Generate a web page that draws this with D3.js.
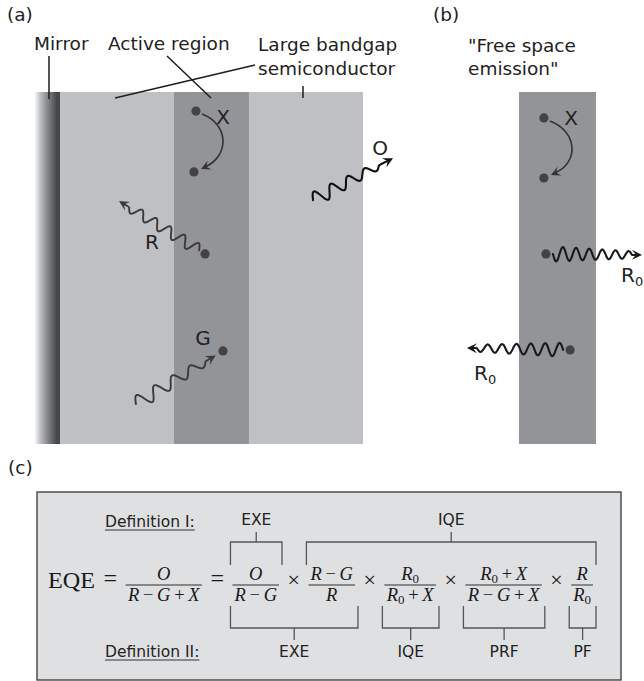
<!DOCTYPE html>
<html><head><meta charset="utf-8">
<script src="https://cdn.jsdelivr.net/npm/d3@7"></script>
<style>html,body{margin:0;padding:0;background:#fff}</style>
</head><body>
<svg id="fig" width="644" height="681"></svg>
<script>
// ---------- data ----------
const layerKinds = ["mirror", "cladding", "active", "cladding"];
const layerEdges = [0, 1, 5.5, 8.5, 13];
const calloutLabels = ["Mirror", "Active region", "Large bandgap", "semiconductor"];
const panelLabels = ["(a)", "(b)", "(c)"];
const freeSpaceLines = ["\"Free space", "emission\""];
// panel (a) processes, in layer units [x, y]
const exchangeA = [[6.38, 0.76], [6.30, 3.18]];
const photonR = [[6.74, 6.44], [3.33, 4.34]];
const photonG = [[4.0, 12.41], [7.45, 10.30]];
const photonO = [[11.02, 4.30], [14.19, 2.63]];
// panel (b) processes
const exchangeB = [[6.47, 1.03], [6.47, 3.42]];
const photonB1 = [[6.55, 6.44], [10.29, 6.48]];
const photonB2 = [[7.49, 10.26], [3.47, 10.18]];
// panel (c) equation
const eqLeft = "EQE";
const joiners = ["=", "=", "×", "×", "×", "×"];
const fracNum = ["O", "O", "R−G", "R_0", "R_0+X", "R"];
const fracDen = ["R−G+X", "R−G", "R", "R_0+X", "R−G+X", "R_0"];
const topBraceLabels = ["EXE", "IQE"];
const topBraceSpans = [[1, 1], [2, 5]];
const bottomBraceLabels = ["EXE", "IQE", "PRF", "PF"];
const bottomBraceSpans = [[1, 2], [3, 3], [4, 4], [5, 5]];
const definitionLabels = ["Definition I:", "Definition II:"];

// ---------- setup ----------
const SANS = "DejaVu Sans, Verdana, sans-serif";
const SERIF = "Liberation Serif, DejaVu Serif, serif";
const INK = "#222";
const svg = d3.select("#fig");

const xA = d3.scaleLinear().domain([0, 13]).range([35, 363]);
const yU = d3.scaleLinear().domain([0, 14]).range([92, 444]);
const xB = d3.scaleLinear().domain([5.5, 8.5]).range([519, 596]);

const defs = svg.append("defs");
const grad = defs.append("linearGradient").attr("id", "mirrorGrad")
  .attr("x1", 0).attr("x2", 1).attr("y1", 0).attr("y2", 0);
[[0, "#f6f6f7"], [0.18, "#c6c7ca"], [0.45, "#8f9093"], [0.72, "#5f6062"], [0.85, "#48494b"], [1, "#444547"]]
  .forEach(([o, c]) => grad.append("stop").attr("offset", o).attr("stop-color", c));

const fills = { mirror: "url(#mirrorGrad)", cladding: "#bfc0c3", active: "#939497" };

// ---------- panel (a) layers ----------
svg.append("g").selectAll("rect").data(layerKinds).join("rect")
  .attr("x", (d, i) => xA(layerEdges[i]))
  .attr("width", (d, i) => xA(layerEdges[i + 1]) - xA(layerEdges[i]))
  .attr("y", yU(0)).attr("height", yU(14) - yU(0))
  .attr("fill", d => fills[d]);

// panel (b) active layer
svg.append("rect").attr("x", xB(5.5)).attr("width", xB(8.5) - xB(5.5))
  .attr("y", yU(0)).attr("height", yU(14) - yU(0)).attr("fill", fills.active);

// ---------- text helper ----------
function label(x, y, txt, size, anchor) {
  return svg.append("text").attr("x", x).attr("y", y).attr("font-family", SANS)
    .attr("font-size", size).attr("fill", INK).attr("text-anchor", anchor || "start").text(txt);
}

label(7, 21, panelLabels[0], 18.5);
label(433, 21, panelLabels[1], 18.5);
label(8, 474, panelLabels[2], 18.5);

label(34, 50, calloutLabels[0], 18.5);
label(108, 50, calloutLabels[1], 18.5);
label(258, 51, calloutLabels[2], 18.5);
label(258, 75, calloutLabels[3], 18.5);
label(468, 52, freeSpaceLines[0], 18.5);
label(468, 75, freeSpaceLines[1], 18.5);

// callout leader lines
const leaders = [[[49, 56], [49, 99]], [[167, 56], [211, 98]], [[115, 98], [255, 65]], [[303, 86], [303, 98]]];
svg.append("g").selectAll("line").data(leaders).join("line")
  .attr("x1", d => d[0][0]).attr("y1", d => d[0][1]).attr("x2", d => d[1][0]).attr("y2", d => d[1][1])
  .attr("stroke", "#1e1e1e").attr("stroke-width", 1.5);

// ---------- arrows ----------
function arrowHead(g, tip, ux, uy, color, h) {
  const nx = -uy, ny = ux, w = h * 0.5;
  const b1 = [tip[0] - ux * h + nx * w, tip[1] - uy * h + ny * w];
  const b2 = [tip[0] - ux * h - nx * w, tip[1] - uy * h - ny * w];
  const nt = [tip[0] - ux * h * 0.6, tip[1] - uy * h * 0.6];
  g.append("path").attr("d", `M${tip}L${b1}L${nt}L${b2}Z`).attr("fill", color);
}

function photon(p0, p1, o) {
  const g = svg.append("g");
  const dx = p1[0] - p0[0], dy = p1[1] - p0[1];
  const L0 = Math.hypot(dx, dy), ux = dx / L0, uy = dy / L0, nx = -uy, ny = ux;
  const L = L0 - (o.endGap || 0);
  const s0 = o.startGap || 0, s1 = L - o.tail;
  const pts = [];
  const N = 240;
  for (let i = 0; i <= N; i++) {
    const t = i / N, s = s0 + t * (s1 - s0);
    const a = o.a0 + (o.a1 - o.a0) * t;
    const off = a * Math.sin(2 * Math.PI * o.cycles * t + (o.phase || 0));
    pts.push([p0[0] + ux * s + nx * off, p0[1] + uy * s + ny * off]);
  }
  pts.push([p0[0] + ux * (L - 5), p0[1] + uy * (L - 5)]);
  g.append("path").attr("d", d3.line().curve(d3.curveCatmullRom)(pts))
    .attr("fill", "none").attr("stroke", o.color).attr("stroke-width", o.width || 1.9)
    .attr("stroke-linecap", "round");
  arrowHead(g, [p0[0] + ux * L, p0[1] + uy * L], ux, uy, o.color, 10);
}

function exchange(d1, d2, color) {
  const p0 = [d1[0] + 6, d1[1] + 3], p3 = [d2[0] + 9, d2[1] - 4];
  const c1 = [p0[0] + 27, p0[1] + 10], c2 = [p3[0] + 27, p3[1] - 12];
  svg.append("path").attr("d", `M${p0}C${c1} ${c2} ${[p3[0] + 2, p3[1] - 1]}`)
    .attr("fill", "none").attr("stroke", color).attr("stroke-width", 1.6);
  const ddx = p3[0] - c2[0], ddy = p3[1] - c2[1], l = Math.hypot(ddx, ddy);
  arrowHead(svg, [p3[0] - 2, p3[1] + 1], ddx / l, ddy / l, color, 9.5);
}

function dot(p) {
  svg.append("circle").attr("cx", p[0]).attr("cy", p[1]).attr("r", 4.6).attr("fill", "#434345");
}

const pa = d => [xA(d[0]), yU(d[1])];
const pb = d => [xB(d[0]), yU(d[1])];

// panel (a)
exchangeA.map(pa).forEach(dot);
exchange(pa(exchangeA[0]), pa(exchangeA[1]), "#333");
dot(pa(photonR[0]));
photon(pa(photonR[0]), pa(photonR[1]), { cycles: 5, a0: 6, a1: 4.5, tail: 12, startGap: 7, color: "#3a3a3a" });
dot(pa(photonG[1]));
photon(pa(photonG[0]), pa(photonG[1]), { cycles: 4, a0: 7.5, a1: 4, tail: 12, endGap: 8.5, color: "#3a3a3a", phase: Math.PI });
photon(pa(photonO[0]), pa(photonO[1]), { cycles: 4, a0: 7.5, a1: 3.5, tail: 16, color: "#111", width: 2.1, phase: Math.PI });

label(223, 124, "X", 20, "middle");
label(152, 249, "R", 20, "middle");
label(203, 345, "G", 20, "middle");
label(380, 155, "O", 20, "middle");

// panel (b)
exchangeB.map(pb).forEach(dot);
exchange(pb(exchangeB[0]), pb(exchangeB[1]), "#333");
dot(pb(photonB1[0]));
photon(pb(photonB1[0]), pb(photonB1[1]), { cycles: 6, a0: 7.5, a1: 3.5, tail: 10, startGap: 7, color: "#1a1a1a", width: 2.1 });
dot(pb(photonB2[0]));
photon(pb(photonB2[0]), pb(photonB2[1]), { cycles: 6, a0: 7, a1: 3.5, tail: 10, startGap: 7, color: "#1a1a1a", width: 2.1 });

label(571, 125, "X", 20, "middle");
function subLabel(x, y, base, sub) {
  const t = label(x, y, base, 20);
  t.append("tspan").attr("font-size", 13).attr("dy", 4).text(sub);
}
subLabel(621, 282, "R", "0");
subLabel(474, 380, "R", "0");

// ---------- panel (c) ----------
svg.append("rect").attr("x", 37).attr("y", 492).attr("width", 584).attr("height", 188)
  .attr("fill", "#dfe0e2").attr("stroke", "#444").attr("stroke-width", 1.4);

const defY = [527, 657];
definitionLabels.forEach((d, i) => {
  const t = label(105, defY[i], d, 15.5);
  const w = t.node().getComputedTextLength();
  svg.append("line").attr("x1", 105).attr("x2", 105 + w).attr("y1", defY[i] + 3).attr("y2", defY[i] + 3)
    .attr("stroke", "#333").attr("stroke-width", 1.1);
});

function mathText(parent, str, size) {
  const t = parent.append("text").attr("font-family", SERIF).attr("font-size", size)
    .attr("text-anchor", "middle").attr("fill", "#1a1a1a");
  let shift = 0;
  for (let i = 0; i < str.length; i++) {
    const c = str[i];
    if (c === "_") {
      const s = str[++i];
      t.append("tspan").attr("font-size", size * 0.7).attr("dy", size * 0.14).text(s);
      shift = size * 0.14;
      continue;
    }
    const ts = t.append("tspan");
    if (shift) { ts.attr("dy", -shift); shift = 0; }
    if (/[A-Z]/.test(c)) ts.attr("font-style", "italic").text(c);
    else ts.text("\u2009" + c + "\u2009");
  }
  return t;
}

const eq = svg.append("g");
const BASE = 588, BAR = 585, FS = 18.5, GAP = 8.5;
let cursor = 48;
// EQE
{
  eq.append("text").attr("font-family", SERIF).attr("font-size", 24).attr("fill", "#1a1a1a")
    .attr("x", cursor).attr("y", BASE).attr("textLength", 47).attr("lengthAdjust", "spacingAndGlyphs").text(eqLeft);
  cursor += 47 + GAP;
}
const fracX0 = [], fracX1 = [];
fracNum.forEach((num, k) => {
  const j = eq.append("text").attr("font-family", SERIF).attr("font-size", k < 2 ? 24 : 22)
    .attr("fill", "#1a1a1a").attr("x", cursor).attr("y", k < 2 ? BASE - 2 : BASE - 1).text(joiners[k]);
  cursor += j.node().getComputedTextLength() + GAP;
  const g = eq.append("g");
  const tn = mathText(g, num, FS).attr("y", BAR - 5);
  const td = mathText(g, fracDen[k], FS).attr("y", BAR + 16);
  const w = Math.max(tn.node().getBBox().width, td.node().getBBox().width) + 3;
  g.attr("transform", `translate(${cursor + w / 2},0)`);
  g.append("line").attr("x1", -w / 2).attr("x2", w / 2).attr("y1", BAR).attr("y2", BAR)
    .attr("stroke", "#1a1a1a").attr("stroke-width", 0.9);
  fracX0.push(cursor); fracX1.push(cursor + w);
  cursor += w + GAP;
});

const braceG = svg.append("g").attr("stroke", "#555").attr("stroke-width", 1.3).attr("fill", "none");
topBraceSpans.forEach(([a, b], i) => {
  const l = fracX0[a] - 2, r = fracX1[b] + 3, m = (l + r) / 2;
  braceG.append("path").attr("d", `M${l},565V542H${r}V565M${m},542V532`);
  label(m, 525, topBraceLabels[i], 15.5, "middle");
});
bottomBraceSpans.forEach(([a, b], i) => {
  const l = fracX0[a] - 2, r = fracX1[b] + 3, m = (l + r) / 2;
  braceG.append("path").attr("d", `M${l},606V628H${r}V606M${m},628V640`);
  label(m, 657, bottomBraceLabels[i], 15.5, "middle");
});
</script>
</body></html>
